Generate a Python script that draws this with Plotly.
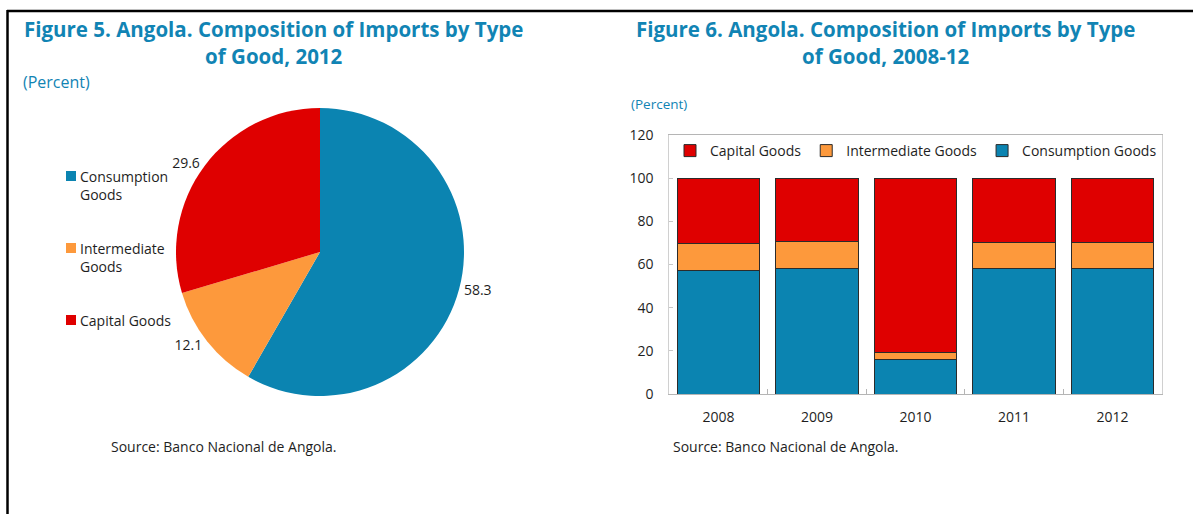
import plotly.graph_objects as go

W, H = 1193, 514

# ---- data -------------------------------------------------------------
goods = ["Consumption Goods", "Intermediate Goods", "Capital Goods"]
goods_legend = ["Consumption<br>Goods", "Intermediate<br>Goods", "Capital Goods"]
colors = ["#0b84b1", "#fd993c", "#df0000"]

share_2012 = [58.3, 12.1, 29.6]

years = ["2008", "2009", "2010", "2011", "2012"]
consumption = [57.3, 58.3, 16.0, 58.1, 58.3]
intermediate = [12.5, 12.4, 3.1, 12.1, 12.1]
capital = [30.2, 29.3, 80.9, 29.8, 29.6]
bar_series = [consumption, intermediate, capital]

y_ticks = [0, 20, 40, 60, 80, 100, 120]

TITLE_BLUE = "#1184b4"
TEXT = "#1e1e1e"
FONT = "Open Sans"


def px(x):
    return x / W


def py(y):
    return 1 - y / H


fig = go.Figure()

# ---- Figure 5: pie ------------------------------------------------------
cx, cy, r = 320, 252, 144
fig.add_trace(go.Pie(
    labels=goods,
    values=share_2012,
    marker=dict(colors=colors, line=dict(width=0)),
    sort=False,
    direction="clockwise",
    rotation=0,
    textposition="outside",
    texttemplate="%{value:.1f}",
    textfont=dict(family=FONT, size=14, color=TEXT),
    domain=dict(x=[px(cx - r), px(cx + r)], y=[py(cy + r), py(cy - r)]),
    showlegend=False,
    hoverinfo="label+value",
))

# ---- Figure 6: stacked bars --------------------------------------------
for name, vals, col in zip(goods, bar_series, colors):
    fig.add_trace(go.Bar(
        x=years, y=vals, name=name,
        marker=dict(color=col, line=dict(color="#2b2b2b", width=1)),
        hovertemplate="%{x}: %{y:.1f}<extra>" + name + "</extra>",
    ))

annotations = []
shapes = []

# pie key, stacked down the left side
for i, (lab, col) in enumerate(zip(goods_legend, colors)):
    top = 170 + i * 72
    shapes.append(dict(type="rect", xref="paper", yref="paper",
                       x0=px(66), x1=px(76), y0=py(top + 11), y1=py(top + 1),
                       fillcolor=col, line=dict(width=0)))
    annotations.append(dict(text=lab, x=px(78), y=py(top - 5), xref="paper", yref="paper",
                            xanchor="left", yanchor="top", align="left", showarrow=False,
                            font=dict(family=FONT, size=14, color=TEXT)))

# titles and notes
annotations += [
    dict(text="<b>Figure 5. Angola. Composition of Imports by Type<br>of Good, 2012</b>",
         x=px(273), y=py(42), xref="paper", yref="paper", xanchor="center", yanchor="middle",
         align="center", showarrow=False, font=dict(family=FONT, size=20.5, color=TITLE_BLUE)),
    dict(text="<b>Figure 6. Angola. Composition of Imports by Type<br>of Good, 2008-12</b>",
         x=px(886), y=py(42), xref="paper", yref="paper", xanchor="center", yanchor="middle",
         align="center", showarrow=False, font=dict(family=FONT, size=20.5, color=TITLE_BLUE)),
    dict(text="(Percent)", x=px(21), y=py(82), xref="paper", yref="paper",
         xanchor="left", yanchor="middle", showarrow=False,
         font=dict(family=FONT, size=16, color=TITLE_BLUE)),
    dict(text="(Percent)", x=px(629), y=py(104), xref="paper", yref="paper",
         xanchor="left", yanchor="middle", showarrow=False,
         font=dict(family=FONT, size=13.5, color=TITLE_BLUE)),
    dict(text="Source: Banco Nacional de Angola.", x=px(109), y=py(446), xref="paper", yref="paper",
         xanchor="left", yanchor="middle", showarrow=False,
         font=dict(family=FONT, size=14, color=TEXT)),
    dict(text="Source: Banco Nacional de Angola.", x=px(671), y=py(446), xref="paper", yref="paper",
         xanchor="left", yanchor="middle", showarrow=False,
         font=dict(family=FONT, size=14, color=TEXT)),
]

# page frame: rule across the top and down the left side
shapes += [
    dict(type="line", xref="paper", yref="paper", x0=px(7), x1=1, y0=py(11), y1=py(11),
         line=dict(color="black", width=2.5)),
    dict(type="line", xref="paper", yref="paper", x0=px(7.5), x1=px(7.5), y0=py(10), y1=0,
         line=dict(color="black", width=2.5)),
]

fig.update_layout(
    width=W, height=H,
    margin=dict(l=0, r=0, t=0, b=0, autoexpand=False),
    paper_bgcolor="white", plot_bgcolor="white",
    barmode="stack", bargap=0.167,
    font=dict(family=FONT, size=14, color=TEXT),
    showlegend=True,
    legend=dict(orientation="h", x=px(670), xanchor="left", y=py(151), yanchor="middle",
                traceorder="reversed", bgcolor="rgba(0,0,0,0)",
                font=dict(family=FONT, size=14, color=TEXT)),
    xaxis=dict(domain=[px(669.3), px(1161.7)], type="category",
               showline=True, linecolor="#b5b5b5", linewidth=1, mirror=True,
               ticks="inside", tickson="boundaries", ticklen=5, tickcolor="#b5b5b5",
               ticklabelstandoff=10, showgrid=False,
               tickfont=dict(family=FONT, size=14, color=TEXT)),
    yaxis=dict(domain=[py(394), py(135)], range=[0, 120], tickvals=y_ticks,
               showline=True, linecolor="#d0d0d0", linewidth=1, mirror=True,
               ticks="inside", ticklen=4, tickcolor="#c8c8c8",
               ticklabelstandoff=12, showgrid=False, zeroline=False,
               tickfont=dict(family=FONT, size=14, color=TEXT)),
    annotations=annotations,
    shapes=shapes,
)

fig.write_html("out.html")
